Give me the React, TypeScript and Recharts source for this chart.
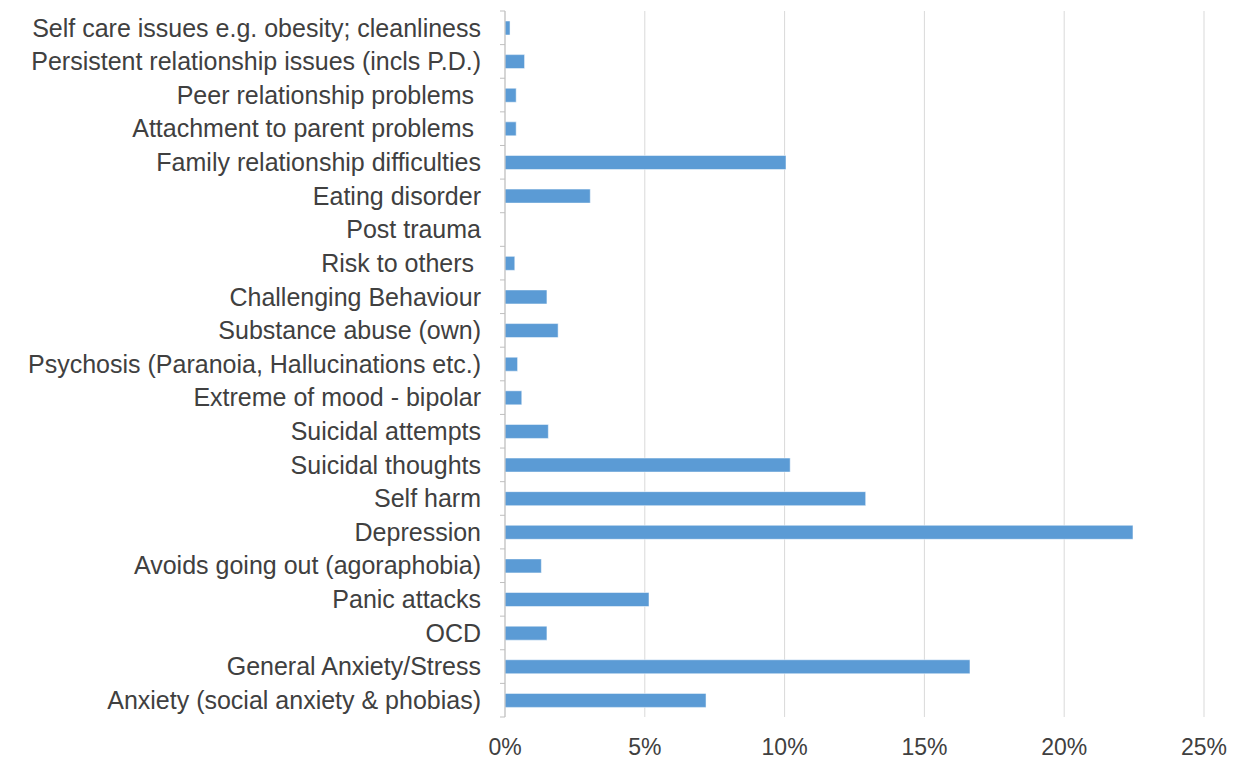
import { BarChart, Bar, XAxis, YAxis, CartesianGrid } from "recharts";

const BAR = "#5B9BD5";
const GRID = "#D9D9D9";
const TEXT = "#404040";
const FONT = "'Liberation Sans', Arial, sans-serif";

const categories = [
  "Self care issues e.g. obesity; cleanliness",
  "Persistent relationship issues (incls P.D.)",
  "Peer relationship problems ",
  "Attachment to parent problems ",
  "Family relationship difficulties",
  "Eating disorder",
  "Post trauma",
  "Risk to others ",
  "Challenging Behaviour",
  "Substance abuse (own)",
  "Psychosis (Paranoia, Hallucinations etc.)",
  "Extreme of mood - bipolar",
  "Suicidal attempts",
  "Suicidal thoughts",
  "Self harm",
  "Depression",
  "Avoids going out (agoraphobia)",
  "Panic attacks",
  "OCD",
  "General Anxiety/Stress",
  "Anxiety (social anxiety & phobias)",
];

const shares = [
  0.0018, 0.007, 0.004, 0.004, 0.1005, 0.0305, 0, 0.0035, 0.015, 0.019, 0.0045,
  0.006, 0.0155, 0.102, 0.129, 0.2246, 0.013, 0.0515, 0.015, 0.1663, 0.0719,
];

const xTicks = [0, 0.05, 0.1, 0.15, 0.2, 0.25];

const data = categories.map((category, i) => ({ category, value: shares[i] }));

const W = 1234;
const H = 761;
const TOP = 11;
const BOTTOM = 44;
const AXIS_X = 505;
const band = (H - TOP - BOTTOM) / categories.length;

function CategoryTick(props: any) {
  const { y, payload } = props;
  return (
    <g>
      <line x1={AXIS_X} x2={AXIS_X - 5} y1={y + band / 2} y2={y + band / 2} stroke="#BFBFBF" />
      {payload.index === 0 && <line x1={AXIS_X} x2={AXIS_X - 5} y1={y - band / 2} y2={y - band / 2} stroke="#BFBFBF" />}
      <text x={AXIS_X - 24} y={y} dy="0.35em" textAnchor="end" fill={TEXT} fontSize={25} fontFamily={FONT} style={{ whiteSpace: "pre" }}>
        {payload.value}
      </text>
    </g>
  );
}

export default function App() {
  return (
    <div style={{ position: "absolute", left: 0, top: 0, width: W, height: H, background: "#fff" }}>
      <BarChart width={W} height={H} data={data} layout="vertical" margin={{ top: TOP, right: 30, left: 0, bottom: 0 }} barSize={14}>
        <CartesianGrid horizontal={false} stroke={GRID} />
        <XAxis
          type="number"
          domain={[0, 0.25]}
          ticks={xTicks}
          tickFormatter={(v) => `${Math.round(v * 100)}%`}
          axisLine={false}
          tickLine={false}
          tickMargin={16}
          height={BOTTOM}
          tick={{ fill: TEXT, fontSize: 23, fontFamily: FONT }}
        />
        <YAxis
          type="category"
          dataKey="category"
          width={AXIS_X}
          axisLine={{ stroke: "#BFBFBF" }}
          tickLine={false}
          interval={0}
          tick={<CategoryTick />}
        />
        <Bar dataKey="value" fill={BAR} stroke="#ffffff" strokeWidth={0.5} isAnimationActive={false} />
      </BarChart>
    </div>
  );
}
